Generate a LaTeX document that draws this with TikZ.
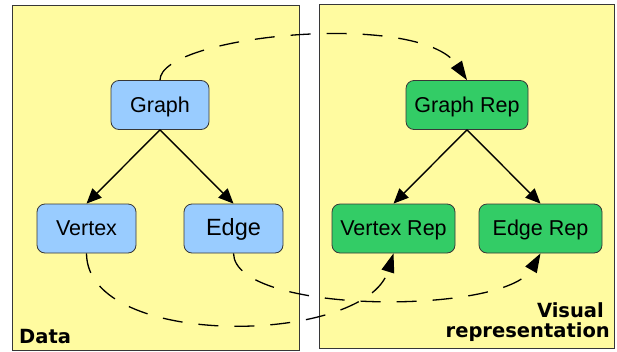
\documentclass[tikz,border=0pt]{standalone}
\usepackage{fontspec}
\setmainfont{Liberation Sans}
\newfontfamily\tagfont{DejaVu Sans}
\usetikzlibrary{arrows.meta}
\definecolor{panelyellow}{RGB}{255,251,160}
\definecolor{databox}{RGB}{153,204,255}
\definecolor{repbox}{RGB}{51,204,102}
\definecolor{outline}{RGB}{55,55,55}
\begin{document}
\begin{tikzpicture}[x=1pt,y=-1pt,
  panel/.style={draw=outline, line width=0.8pt, fill=panelyellow},
  item/.style={draw=outline, line width=0.8pt, rounded corners=8pt,
    minimum height=49pt, inner sep=0pt, text height=14pt, text depth=0pt,
    font=\fontsize{21.5}{26}\selectfont},
  datanode/.style={item, fill=databox},
  repnode/.style={item, fill=repbox},
  tree/.style={line width=1.4pt, -{Triangle[length=15pt,width=13pt]}},
  link/.style={line width=1.3pt, dash pattern=on 20pt off 16pt,
    -{Triangle[length=19pt,width=13pt]}},
  tag/.style={font=\tagfont\bfseries\fontsize{19.5}{22}\selectfont, inner sep=0pt}]
\useasboundingbox (0,0) rectangle (617,351);
\fill[white] (0,0) rectangle (617,351);

% the two panels
\draw[panel] (12,5) rectangle (299,350);
\draw[panel] (319,4) rectangle (614,348);

% data model
\node[datanode, minimum width=98pt] (graph) at (160,105) {Graph};
\node[datanode, minimum width=99pt] (vertex) at (86.5,228.5) {Vertex};
\node[datanode, minimum width=99pt, font=\fontsize{23.5}{28}\selectfont] (edge) at (233.5,228.5) {Edge};

% visual representation
\node[repnode, minimum width=122pt] (graphrep) at (467,105) {Graph Rep};
\node[repnode, minimum width=123pt] (vertexrep) at (393.5,228.5) {Vertex Rep};
\node[repnode, minimum width=123pt] (edgerep) at (540.5,228.5) {Edge Rep};

% containment
\draw[tree] (graph.south) -- (vertex.north);
\draw[tree] (graph.south) -- (edge.north);
\draw[tree] (graphrep.south) -- (vertexrep.north);
\draw[tree] (graphrep.south) -- (edgerep.north);

% mapping from data to representation
\draw[link] (graph.north) .. controls (160,35) and (420,10) .. (graphrep.north);
\draw[link] (vertex.south) .. controls (87,350) and (365,345) .. (vertexrep.south);
\draw[link] (edge.south) .. controls (235,315) and (505,315) .. (edgerep.south);

% panel captions
\node[tag, anchor=base west] (datalabel) at (19,343) {Data};
\node[tag, anchor=base east] (visuallabel) at (604,317) {Visual};
\node[tag, anchor=base east] (replabel) at (610,337) {representation};
\end{tikzpicture}
\end{document}
